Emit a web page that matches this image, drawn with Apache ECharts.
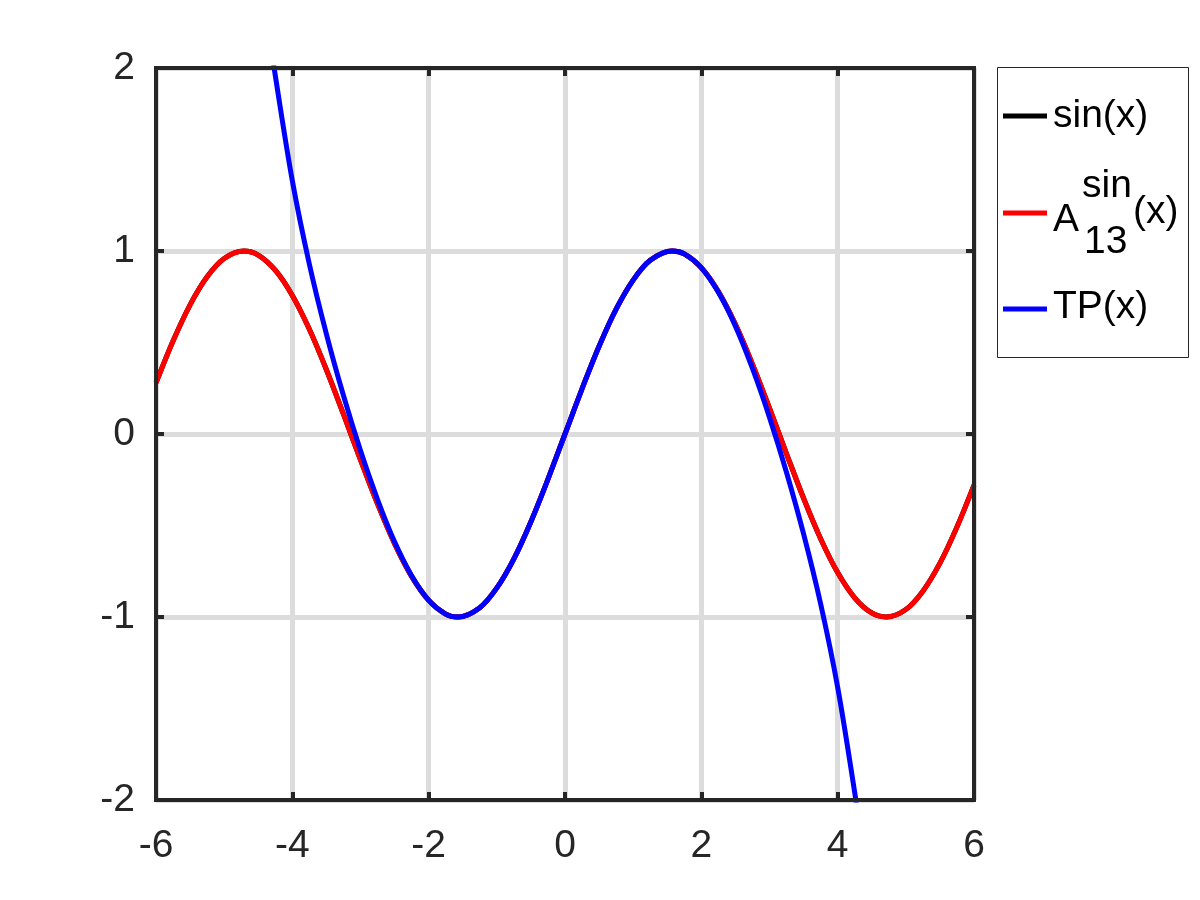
<!DOCTYPE html>
<html>
<head>
<meta charset="utf-8">
<script src="https://cdn.jsdelivr.net/npm/echarts@6/dist/echarts.min.js"></script>
<style>
html,body{margin:0;padding:0;background:#fff;}
#chart{width:1200px;height:900px;}
</style>
</head>
<body>
<div id="chart"></div>
<script>
// sample positions along x
const sinX = [-6,-5.75,-5.5,-5.25,-5,-4.712,-4.5,-4.25,-4,-3.75,-3.5,-3.25,-3,-2.75,-2.5,-2.25,-2,-1.75,-1.571,-1.25,-1,-0.75,-0.5,-0.25,0,0.25,0.5,0.75,1,1.25,1.571,1.75,2,2.25,2.5,2.75,3,3.25,3.5,3.75,4,4.25,4.5,4.712,5,5.25,5.5,5.75,6];
// sin(x) (black, drawn underneath)
const sinValues = [0.279,0.508,0.706,0.859,0.959,1.000,0.978,0.895,0.757,0.572,0.351,0.108,-0.141,-0.382,-0.599,-0.778,-0.909,-0.984,-1.000,-0.949,-0.841,-0.682,-0.479,-0.247,0,0.247,0.479,0.682,0.841,0.949,1.000,0.984,0.909,0.778,0.599,0.382,0.141,-0.108,-0.351,-0.572,-0.757,-0.895,-0.978,-1.000,-0.959,-0.859,-0.706,-0.508,-0.279];
// A_13^sin(x) (red)
const a13Values = [0.279,0.508,0.706,0.859,0.959,1.000,0.978,0.895,0.757,0.572,0.351,0.108,-0.141,-0.382,-0.599,-0.778,-0.909,-0.984,-1.000,-0.949,-0.841,-0.682,-0.479,-0.247,0,0.247,0.479,0.682,0.841,0.949,1.000,0.984,0.909,0.778,0.599,0.382,0.141,-0.108,-0.351,-0.572,-0.757,-0.895,-0.978,-1.000,-0.959,-0.859,-0.706,-0.508,-0.279];
// TP(x) (blue)
const tpX = [-4.3,-4.25,-4,-3.75,-3.5,-3.25,-3,-2.75,-2.5,-2.25,-2,-1.75,-1.571,-1.25,-1,-0.75,-0.5,-0.25,0,0.25,0.5,0.75,1,1.25,1.571,1.75,2,2.25,2.5,2.75,3,3.25,3.5,3.75,4,4.25,4.3];
const tpValues = [2.094,1.959,1.384,0.928,0.546,0.210,-0.091,-0.358,-0.589,-0.774,-0.908,-0.984,-1.000,-0.949,-0.841,-0.682,-0.479,-0.247,0,0.247,0.479,0.682,0.841,0.949,1.000,0.984,0.908,0.774,0.589,0.358,0.091,-0.210,-0.546,-0.928,-1.384,-1.959,-2.094];

const seriesNames = ['sin(x)', 'A13sin(x)', 'TP(x)'];
const seriesColors = ['#000000', '#ff0000', '#0000ff'];

const pairs = (xs, ys) => xs.map((x, i) => [x, ys[i]]);

const FONT = 'Liberation Sans';
const AX = '#262626';

function xAxisCfg(pos, labels) {
  return {
    type: 'value', position: pos, min: -6, max: 6, interval: 2,
    axisLine: { show: false, onZero: false },
    axisTick: { show: true, inside: true, length: 8, lineStyle: { color: AX, width: 4 } },
    axisLabel: { show: labels, fontFamily: FONT, fontSize: 39, color: AX, margin: 27 },
    splitLine: { show: labels, lineStyle: { color: '#dcdcdc', width: 5 } }
  };
}
function yAxisCfg(pos, labels) {
  return {
    type: 'value', position: pos, min: -2, max: 2, interval: 1,
    axisLine: { show: false, onZero: false },
    axisTick: { show: true, inside: true, length: 8, lineStyle: { color: AX, width: 4 } },
    axisLabel: { show: labels, fontFamily: FONT, fontSize: 39, color: AX, margin: 21 },
    splitLine: { show: labels, lineStyle: { color: '#dcdcdc', width: 5 } }
  };
}

function lineSeries(i, data) {
  return {
    name: seriesNames[i], type: 'line', data: data, xAxisIndex: 0, yAxisIndex: 0,
    showSymbol: false, symbol: 'none', smooth: 0.33, clip: true,
    lineStyle: { color: seriesColors[i], width: 5 }, z: 3 + i
  };
}

const textStyle = (t, x, y) => ({
  type: 'text', x: x, y: y, z: 100,
  style: { text: t, fontFamily: FONT, fontSize: 39, fill: '#000', verticalAlign: 'middle', align: 'left' }
});
const legendLine = (c, y) => ({
  type: 'line', z: 100, shape: { x1: 1003, y1: y, x2: 1047, y2: y },
  style: { stroke: c, lineWidth: 5 }
});

const chart = echarts.init(document.getElementById('chart'));
chart.setOption({
  animation: false,
  backgroundColor: '#fff',
  grid: { left: 156, right: 226, top: 68, bottom: 100, show: true, borderColor: AX, borderWidth: 4, backgroundColor: 'transparent', z: 10 },
  xAxis: [xAxisCfg('bottom', true), xAxisCfg('top', false)],
  yAxis: [yAxisCfg('left', true), yAxisCfg('right', false)],
  series: [
    lineSeries(0, pairs(sinX, sinValues)),
    lineSeries(1, pairs(sinX, a13Values)),
    lineSeries(2, pairs(tpX, tpValues))
  ],
  graphic: [
    { type: 'rect', z: 99, shape: { x: 997.5, y: 67.5, width: 191, height: 290 }, style: { fill: '#fff', stroke: AX, lineWidth: 1 } },
    legendLine(seriesColors[0], 116),
    legendLine(seriesColors[1], 213),
    legendLine(seriesColors[2], 309),
    textStyle('sin(x)', 1053, 116),
    textStyle('A', 1053, 220),
    textStyle('sin', 1082, 186),
    textStyle('13', 1084, 242),
    textStyle('(x)', 1133, 212),
    textStyle('TP(x)', 1053, 307)
  ]
});
</script>
</body>
</html>
